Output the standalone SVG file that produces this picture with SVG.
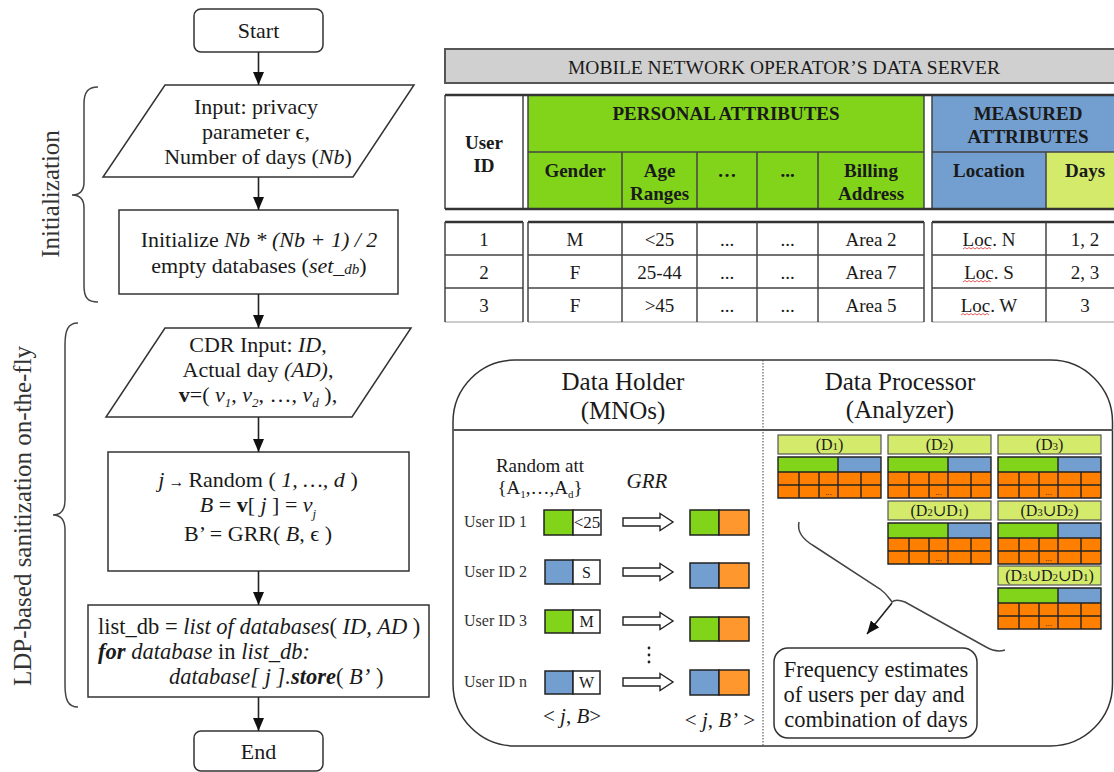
<svg xmlns="http://www.w3.org/2000/svg" width="1114" height="772" viewBox="0 0 1114 772">
<defs>
<marker id="ah" markerUnits="userSpaceOnUse" markerWidth="13" markerHeight="11" refX="13" refY="5.5" orient="auto" viewBox="0 0 13 11">
<path d="M0,0 L13,5.5 L0,11 Z" fill="#111"/>
</marker>
<style>
text { font-family: "Liberation Serif", "Times New Roman", "DejaVu Serif", serif; fill: #1a1a1a; }
.fc { font-size: 22px; text-anchor: middle; }
.fl { font-size: 22.5px; }
.shape { fill: #fff; stroke: #333; stroke-width: 1.5; }
.conn { stroke: #222; stroke-width: 1.6; fill: none; marker-end: url(#ah); }
.brace { stroke: #444; stroke-width: 1.5; fill: none; }
.side { font-size: 25px; text-anchor: middle; fill: #333; }
.th { font-weight: bold; font-size: 19px; text-anchor: middle; }
.td { font-size: 19px; text-anchor: middle; }
.tl { stroke: #444; stroke-width: 1.5; fill: none; }
.g { fill: #81d41a; } .b { fill: #729fcf; } .y { fill: #d4ea6b; } .o { fill: #ff8000; } .o2 { fill: #ff972f; }
.cell { stroke: #222; stroke-width: 1.5; }
.uid { font-size: 16px; fill: #333; }
.hol { font-size: 25px; text-anchor: middle; }
.it { font-style: italic; }
.bd { font-weight: bold; }
.dtitle { font-size: 16px; text-anchor: middle; }
.wavy { stroke: #d33; stroke-width: 0.8; fill: none; }
.hollow { fill: #fff; stroke: #222; stroke-width: 1.4; }
</style>
</defs>
<rect width="1114" height="772" fill="#fff"/>

<!-- Side braces and labels -->
<g id="init-brace">
<path class="brace" d="M98,87 C88,87 84,92 84,104 L84,182 C84,190 80,195 72,195 C80,195 84,200 84,208 L84,286 C84,298 88,302 98,302"/>
<text class="side" transform="translate(59,194) rotate(-90)">Initialization</text>
</g>
<g id="ldp-brace">
<path class="brace" d="M78,323 C68,323 65,330 65,345 L65,500 C65,510 61,515 53,515 C61,515 65,520 65,530 L65,685 C65,700 68,707 78,707"/>
<text class="side" transform="translate(31,516) rotate(-90)">LDP-based sanitization on-the-fly</text>
</g>

<!-- Flowchart nodes -->
<g id="start">
<rect class="shape" x="194" y="9" width="129" height="43" rx="7"/>
<text class="fc" x="258.5" y="38">Start</text>
</g>
<g id="input-params">
<polygon class="shape" points="165,85 414,85 353,177 103,177"/>
<text class="fc" x="256" y="114">Input: privacy</text>
<text class="fc" x="256" y="139">parameter ϵ,</text>
<text class="fc" x="258" y="164">Number of days (<tspan class="it">Nb</tspan>)</text>
</g>
<g id="init-db">
<rect class="shape" x="119" y="210" width="279" height="84"/>
<text class="fc" x="259" y="247">Initialize <tspan class="it">Nb * (Nb + 1) / 2</tspan></text>
<text class="fc" x="259" y="273">empty databases (<tspan class="it">set_</tspan><tspan class="it" font-size="15" dy="1">db</tspan><tspan dy="-1">)</tspan></text>
</g>
<g id="cdr-input">
<polygon class="shape" points="165,328 411,328 352,417 106,417"/>
<text class="fc" x="258" y="352">CDR Input: <tspan class="it">ID</tspan>,</text>
<text class="fc" x="258" y="377">Actual day <tspan class="it">(AD)</tspan>,</text>
<text class="fc" x="258" y="402"><tspan class="bd">v</tspan>=( <tspan class="it">v</tspan><tspan class="it" font-size="13" dy="5">1</tspan><tspan dy="-5">, </tspan><tspan class="it">v</tspan><tspan class="it" font-size="13" dy="5">2</tspan><tspan dy="-5">, …, </tspan><tspan class="it">v</tspan><tspan class="it" font-size="13" dy="5">d</tspan><tspan dy="-5"> ),</tspan></text>
</g>
<g id="random-grr">
<rect class="shape" x="108" y="452" width="301" height="119"/>
<text class="fc" x="258" y="487"><tspan class="it">j</tspan><tspan font-size="16"> → </tspan>Random ( <tspan class="it">1, …, d</tspan> )</text>
<text class="fc" x="258" y="512"><tspan class="it">B</tspan> = <tspan class="bd">v</tspan>[ <tspan class="it">j</tspan> ] = <tspan class="it">v</tspan><tspan class="it" font-size="13" dy="6">j</tspan></text>
<text class="fc" x="258" y="541">B’ = GRR( <tspan class="it">B</tspan>, ϵ )</text>
</g>
<g id="store">
<rect class="shape" x="88" y="605" width="341" height="92"/>
<text class="fl" x="98" y="634">list_db = <tspan class="it">list of databases</tspan>( <tspan class="it">ID, AD</tspan> )</text>
<text class="fl" x="98" y="659"><tspan class="it bd">for</tspan><tspan class="it"> database</tspan> in <tspan class="it">list_db:</tspan></text>
<text class="fl" x="169" y="684"><tspan class="it">database[ j ].</tspan><tspan class="it bd">store</tspan>( <tspan class="it">B’</tspan> )</text>
</g>
<g id="end">
<rect class="shape" x="194" y="731" width="129" height="40" rx="7"/>
<text class="fc" x="258.5" y="759">End</text>
</g>

<!-- Data server table -->
<g id="server-title">
<rect x="444" y="49" width="672" height="34" fill="#d0d0d0"/>
<path d="M444,49 H1114 M444,83 H1114 M445,49 V83" stroke="#555" stroke-width="2" fill="none"/>
<text x="784" y="73.5" font-size="19.5" text-anchor="middle" fill="#333">MOBILE NETWORK OPERATOR’S DATA SERVER</text>
</g>
<g id="table-header">
<rect x="445" y="95" width="78" height="114" fill="#fff"/>
<rect x="528" y="95" width="396" height="114" class="g"/>
<rect x="932" y="95" width="190" height="57" class="b"/>
<rect x="932" y="152" width="114" height="57" class="b"/>
<rect x="1046" y="152" width="80" height="57" class="y"/>
<path class="tl" d="M445,95 V209 M523,95 V209 M528,95 V209 M924,95 V209 M932,95 V209 M528,152 H924 M932,152 H1114 M622,152 V209 M697,152 V209 M757,152 V209 M818,152 V209 M1046,152 V209"/>
<path d="M445,95 H1114 M445,209 H1114" stroke="#333" stroke-width="2.5"/>
<text class="th" x="726" y="119.5">PERSONAL ATTRIBUTES</text>
<text class="th" x="484" y="148.5">User</text>
<text class="th" x="484" y="171.5">ID</text>
<text class="th" x="575" y="176.5">Gender</text>
<text class="th" x="659.5" y="176.5">Age</text>
<text class="th" x="659.5" y="199.5">Ranges</text>
<text class="th" x="727" y="176.5">…</text>
<text class="th" x="787.5" y="176.5">...</text>
<text class="th" x="871" y="176.5">Billing</text>
<text class="th" x="871" y="199.5">Address</text>
<text class="th" x="1028" y="119.5">MEASURED</text>
<text class="th" x="1028" y="142.5">ATTRIBUTES</text>
<text class="th" x="989" y="176.5">Location</text>
<text class="th" x="1085" y="176.5">Days</text>
</g>
<g id="table-rows">
<path d="M445,222 H523 M528,222 H924 M932,222 H1114" stroke="#333" stroke-width="2.5"/>
<path class="tl" d="M445,255 H523 M528,255 H924 M932,255 H1114 M445,288 H523 M528,288 H924 M932,288 H1114"/>
<path d="M445,322 H523 M528,322 H924 M932,322 H1114" stroke="#999" stroke-width="1.2"/>
<path class="tl" d="M445,222 V322 M523,222 V322 M528,222 V322 M622,222 V322 M697,222 V322 M757,222 V322 M818,222 V322 M924,222 V322 M932,222 V322 M1046,222 V322"/>
<text class="td" x="484" y="245.5">1</text><text class="td" x="575" y="245.5">M</text><text class="td" x="659.5" y="245.5">&lt;25</text><text class="td" x="727" y="245.5">...</text><text class="td" x="787.5" y="245.5">...</text><text class="td" x="871" y="245.5">Area 2</text><text class="td" x="989" y="245.5">Loc. N</text><text class="td" x="1085" y="245.5">1, 2</text>
<text class="td" x="484" y="278.5">2</text><text class="td" x="575" y="278.5">F</text><text class="td" x="659.5" y="278.5">25-44</text><text class="td" x="727" y="278.5">...</text><text class="td" x="787.5" y="278.5">...</text><text class="td" x="871" y="278.5">Area 7</text><text class="td" x="989" y="278.5">Loc. S</text><text class="td" x="1085" y="278.5">2, 3</text>
<text class="td" x="484" y="311.5">3</text><text class="td" x="575" y="311.5">F</text><text class="td" x="659.5" y="311.5">&gt;45</text><text class="td" x="727" y="311.5">...</text><text class="td" x="787.5" y="311.5">...</text><text class="td" x="871" y="311.5">Area 5</text><text class="td" x="989" y="311.5">Loc. W</text><text class="td" x="1085" y="311.5">3</text>
<path class="wavy" d="M963,249 l2,-1.5 l2,1.5 l2,-1.5 l2,1.5 l2,-1.5 l2,1.5 l2,-1.5 l2,1.5 l2,-1.5 l2,1.5 l2,-1.5 l2,1.5 l2,-1.5 l2,1.5"/>
<path class="wavy" d="M963,282 l2,-1.5 l2,1.5 l2,-1.5 l2,1.5 l2,-1.5 l2,1.5 l2,-1.5 l2,1.5 l2,-1.5 l2,1.5 l2,-1.5 l2,1.5 l2,-1.5 l2,1.5"/>
<path class="wavy" d="M961,315 l2,-1.5 l2,1.5 l2,-1.5 l2,1.5 l2,-1.5 l2,1.5 l2,-1.5 l2,1.5 l2,-1.5 l2,1.5 l2,-1.5 l2,1.5 l2,-1.5 l2,1.5"/>
</g>

<!-- Data holder / processor panel -->
<g id="panel">
<rect x="453" y="360" width="659.5" height="386" rx="62" ry="62" fill="none" stroke="#333" stroke-width="1.5"/>
<line x1="453" y1="430" x2="1113" y2="430" stroke="#555" stroke-width="2"/>
<line x1="763" y1="360" x2="763" y2="746" stroke="#444" stroke-width="1" stroke-dasharray="1.5,1.5"/>
</g>
<g id="data-holder">
<text class="hol" x="623" y="390">Data Holder</text>
<text class="hol" x="623" y="419">(MNOs)</text>
<text x="540" y="472" font-size="19" text-anchor="middle">Random att</text>
<text x="540" y="494" font-size="19" text-anchor="middle">{A<tspan font-size="11" dy="4">1</tspan><tspan dy="-4">,…,A</tspan><tspan font-size="11" dy="4">d</tspan><tspan dy="-4">}</tspan></text>
<text x="647" y="488" font-size="21" text-anchor="middle" class="it">GRR</text>
<text x="572" y="723" font-size="21" text-anchor="middle">&lt; <tspan class="it">j</tspan>, <tspan class="it">B</tspan>&gt;</text>
<text x="720" y="727" font-size="21" text-anchor="middle">&lt; <tspan class="it">j</tspan>, <tspan class="it">B’</tspan> &gt;</text>
<circle cx="649" cy="648" r="1.4" fill="#222"/><circle cx="649" cy="655" r="1.4" fill="#222"/><circle cx="649" cy="662" r="1.4" fill="#222"/>
</g>
<g id="user1">
<text class="uid" x="464" y="527">User ID 1</text>
<rect class="g cell" x="544" y="510" width="29" height="25"/><rect class="cell" fill="#fff" x="573" y="510" width="28" height="25"/>
<text x="587" y="528" font-size="17" text-anchor="middle">&lt;25</text>
<rect class="g cell" x="690" y="510" width="29" height="25"/><rect class="o2 cell" x="719" y="510" width="30" height="25"/>
</g>
<g id="user2">
<text class="uid" x="464" y="577">User ID 2</text>
<rect class="b cell" x="545" y="560" width="28" height="24"/><rect class="cell" fill="#fff" x="573" y="560" width="27" height="24"/>
<text x="586.5" y="578" font-size="16" text-anchor="middle">S</text>
<rect class="b cell" x="690" y="563" width="29" height="25"/><rect class="o2 cell" x="719" y="563" width="30" height="25"/>
</g>
<g id="user3">
<text class="uid" x="464" y="626">User ID 3</text>
<rect class="g cell" x="545" y="610" width="28" height="23"/><rect class="cell" fill="#fff" x="573" y="610" width="27" height="23"/>
<text x="586.5" y="627" font-size="16" text-anchor="middle">M</text>
<rect class="g cell" x="690" y="617" width="29" height="24"/><rect class="o2 cell" x="719" y="617" width="30" height="24"/>
</g>
<g id="usern">
<text class="uid" x="464" y="687">User ID n</text>
<rect class="b cell" x="545" y="671" width="28" height="23"/><rect class="cell" fill="#fff" x="573" y="671" width="27" height="23"/>
<text x="586.5" y="688" font-size="16" text-anchor="middle">W</text>
<rect class="b cell" x="690" y="670" width="29" height="25"/><rect class="o2 cell" x="719" y="670" width="30" height="25"/>
</g>

<g id="data-processor">
<text class="hol" x="900" y="390">Data Processor</text>
<text class="hol" x="900" y="418">(Analyzer)</text>
</g>

<g id="db-d1" transform="translate(778,435)">
<rect class="y" x="0" y="0" width="103" height="19" stroke="#555" stroke-width="1.2"/>
<text class="dtitle" x="51.5" y="15">(D<tspan font-size="11">1</tspan>)</text>
<rect class="g" x="0" y="22" width="60" height="15"/><rect class="b" x="60" y="22" width="43" height="15"/>
<rect class="o" x="0" y="37" width="103" height="26"/>
<path d="M0,22 H103 V63 H0 Z M60,22 V63 M0,37 H103 M0,50 H103 M21,37 V63 M41,37 V63 M83,37 V63" stroke="#222" stroke-width="1.4" fill="none"/>
<text x="50.5" y="60" font-size="9" text-anchor="middle">...</text>
</g>
<g id="db-d2" transform="translate(888,435)">
<rect class="y" x="0" y="0" width="103" height="19" stroke="#555" stroke-width="1.2"/>
<text class="dtitle" x="51.5" y="15">(D<tspan font-size="11">2</tspan>)</text>
<rect class="g" x="0" y="22" width="60" height="15"/><rect class="b" x="60" y="22" width="43" height="15"/>
<rect class="o" x="0" y="37" width="103" height="26"/>
<path d="M0,22 H103 V63 H0 Z M60,22 V63 M0,37 H103 M0,50 H103 M21,37 V63 M41,37 V63 M83,37 V63" stroke="#222" stroke-width="1.4" fill="none"/>
<text x="50.5" y="60" font-size="9" text-anchor="middle">...</text>
</g>
<g id="db-d3" transform="translate(998,435)">
<rect class="y" x="0" y="0" width="103" height="19" stroke="#555" stroke-width="1.2"/>
<text class="dtitle" x="51.5" y="15">(D<tspan font-size="11">3</tspan>)</text>
<rect class="g" x="0" y="22" width="60" height="15"/><rect class="b" x="60" y="22" width="43" height="15"/>
<rect class="o" x="0" y="37" width="103" height="26"/>
<path d="M0,22 H103 V63 H0 Z M60,22 V63 M0,37 H103 M0,50 H103 M21,37 V63 M41,37 V63 M83,37 V63" stroke="#222" stroke-width="1.4" fill="none"/>
<text x="50.5" y="60" font-size="9" text-anchor="middle">...</text>
</g>
<g id="db-d2d1" transform="translate(888,501)">
<rect class="y" x="0" y="0" width="103" height="19" stroke="#555" stroke-width="1.2"/>
<text class="dtitle" x="51.5" y="15">(D<tspan font-size="11">2</tspan>∪D<tspan font-size="11">1</tspan>)</text>
<rect class="g" x="0" y="22" width="60" height="15"/><rect class="b" x="60" y="22" width="43" height="15"/>
<rect class="o" x="0" y="37" width="103" height="26"/>
<path d="M0,22 H103 V63 H0 Z M60,22 V63 M0,37 H103 M0,50 H103 M21,37 V63 M41,37 V63 M83,37 V63" stroke="#222" stroke-width="1.4" fill="none"/>
<text x="50.5" y="60" font-size="9" text-anchor="middle">...</text>
</g>
<g id="db-d3d2" transform="translate(998,501)">
<rect class="y" x="0" y="0" width="103" height="19" stroke="#555" stroke-width="1.2"/>
<text class="dtitle" x="51.5" y="15">(D<tspan font-size="11">3</tspan>∪D<tspan font-size="11">2</tspan>)</text>
<rect class="g" x="0" y="22" width="60" height="15"/><rect class="b" x="60" y="22" width="43" height="15"/>
<rect class="o" x="0" y="37" width="103" height="26"/>
<path d="M0,22 H103 V63 H0 Z M60,22 V63 M0,37 H103 M0,50 H103 M21,37 V63 M41,37 V63 M83,37 V63" stroke="#222" stroke-width="1.4" fill="none"/>
<text x="50.5" y="60" font-size="9" text-anchor="middle">...</text>
</g>
<g id="db-d3d2d1" transform="translate(998,566)">
<rect class="y" x="0" y="0" width="103" height="19" stroke="#555" stroke-width="1.2"/>
<text class="dtitle" x="51.5" y="15">(D<tspan font-size="11">3</tspan>∪D<tspan font-size="11">2</tspan>∪D<tspan font-size="11">1</tspan>)</text>
<rect class="g" x="0" y="22" width="60" height="15"/><rect class="b" x="60" y="22" width="43" height="15"/>
<rect class="o" x="0" y="37" width="103" height="26"/>
<path d="M0,22 H103 V63 H0 Z M60,22 V63 M0,37 H103 M0,50 H103 M21,37 V63 M41,37 V63 M83,37 V63" stroke="#222" stroke-width="1.4" fill="none"/>
<text x="50.5" y="60" font-size="9" text-anchor="middle">...</text>
</g>

<g id="frequency">
<rect x="774" y="648" width="203" height="90" rx="14" fill="#fff" stroke="#333" stroke-width="1.5"/>
<text x="876" y="677" font-size="22.5" text-anchor="middle">Frequency estimates</text>
<text x="874" y="702" font-size="22.5" text-anchor="middle">of users per day and</text>
<text x="876" y="727" font-size="22.5" text-anchor="middle">combination of days</text>
</g>

<!-- Connectors -->
<g id="connectors">
<line class="conn" x1="258.5" y1="52" x2="258.5" y2="85"/>
<line class="conn" x1="258.5" y1="177" x2="258.5" y2="210"/>
<line class="conn" x1="258.5" y1="294" x2="258.5" y2="328"/>
<line class="conn" x1="258.5" y1="417" x2="258.5" y2="452"/>
<line class="conn" x1="258.5" y1="571" x2="258.5" y2="605"/>
<line class="conn" x1="258.5" y1="697" x2="258.5" y2="731"/>
<path class="hollow" d="M623,518 H660 V513.5 L673,522 L660,530.5 V526 H623 Z"/>
<path class="hollow" d="M623,568 H660 V563.5 L673,572 L660,580.5 V576 H623 Z"/>
<path class="hollow" d="M623,617 H660 V612.5 L673,621 L660,629.5 V625 H623 Z"/>
<path class="hollow" d="M623,678 H660 V673.5 L673,682 L660,690.5 V686 H623 Z"/>
<path class="brace" stroke="#222" d="M799,522 C797,531 802,539 814,546 L880,589 C887,594 889,598 892,602 C895,599 900,600 905,602 L986,647 C993,651 999,652 1005,650"/>
<path class="conn" d="M892,603 L867,634"/>
</g>
</svg>
